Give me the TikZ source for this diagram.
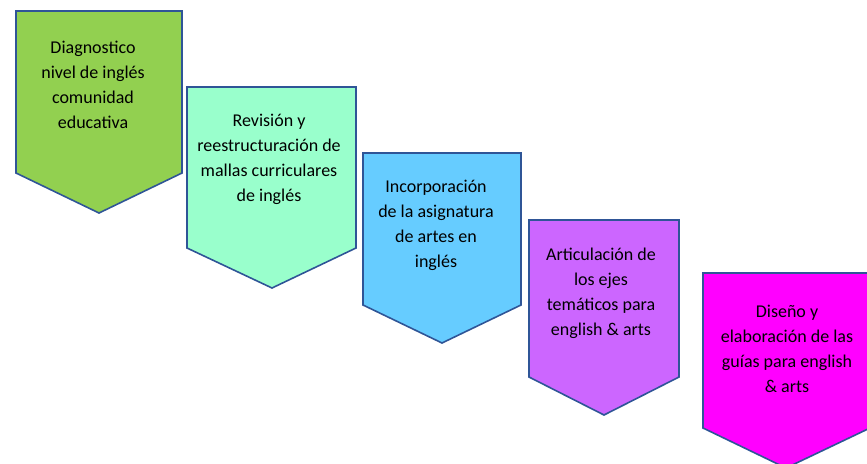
\documentclass[tikz,border=0pt]{standalone}
\usepackage{fontspec}
\setmainfont{Carlito}
\definecolor{edge}{HTML}{2F5597}
\definecolor{c1}{HTML}{92D050}
\definecolor{c2}{HTML}{99FFCC}
\definecolor{c3}{HTML}{66CCFF}
\definecolor{c4}{HTML}{CC66FF}
\definecolor{c5}{HTML}{FF00FF}
\tikzset{
  chevron/.style={draw=edge, line width=1.6pt, line join=miter},
  label/.style={align=center, inner sep=0pt, font=\fontsize{18}{25}\selectfont, text=black}
}
\begin{document}
\begin{tikzpicture}[x=1pt,y=-1pt]
\useasboundingbox (0,0) rectangle (867,463);
\begin{scope}
\clip (0,0) rectangle (867,463);
\draw[chevron, fill=c1] (16,11) -- (182,11) -- (182,173) -- (99,213) -- (16,173) -- cycle;
\draw[chevron, fill=c2] (187,87) -- (356,87) -- (356,248) -- (272,288) -- (187,248) -- cycle;
\draw[chevron, fill=c3] (363,153) -- (521,153) -- (521,305) -- (442,343) -- (363,305) -- cycle;
\draw[chevron, fill=c4] (529,220) -- (679,220) -- (679,377) -- (604,415) -- (529,377) -- cycle;
\draw[chevron, fill=c5] (703,273) -- (870,273) -- (870,428) -- (786,468) -- (703,428) -- cycle;
\end{scope}
\node[label] (t1) at (93,85) {Diagnostico\\nivel de inglés\\comunidad\\educativa};
\node[label] (t2) at (269,159) {Revisión y\\reestructuración de\\mallas curriculares\\de inglés};
\node[label] (t3) at (436,225) {Incorporación\\de la asignatura\\de artes en\\inglés};
\node[label] (t4) at (601,293) {Articulación de\\los ejes\\temáticos para\\english \& arts};
\node[label] (t5) at (787,349) {Diseño y\\elaboración de las\\guías para english\\\& arts};
\end{tikzpicture}
\end{document}
